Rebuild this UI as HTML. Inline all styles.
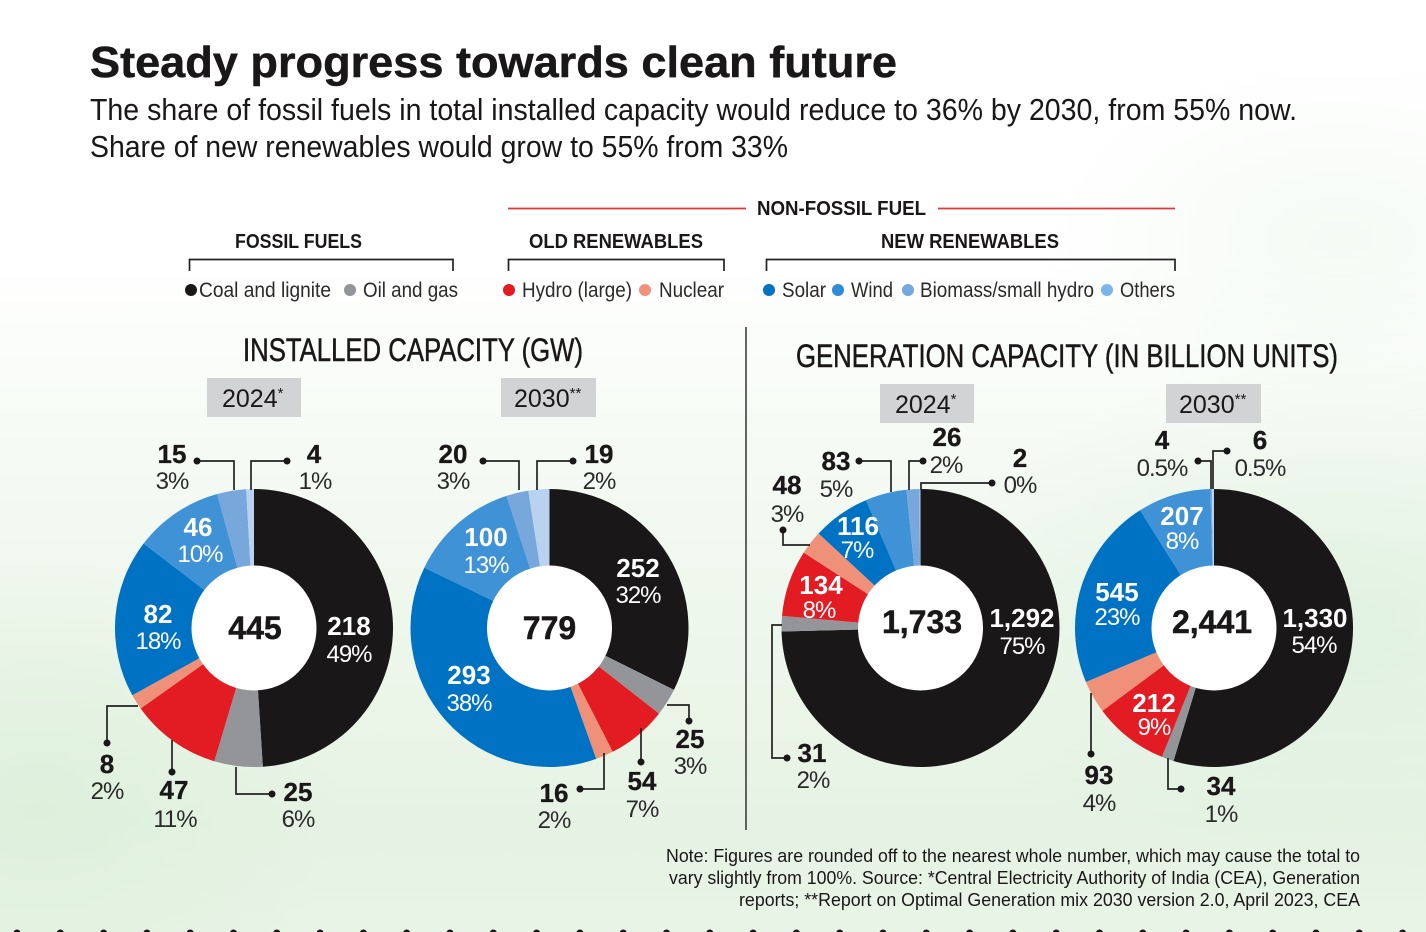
<!DOCTYPE html>
<html lang="en">
<head>
<meta charset="utf-8">
<title>Steady progress towards clean future</title>
<style>
html,body{margin:0;padding:0;background:#fff}
#page{position:relative;width:1426px;height:932px;overflow:hidden;
background:
radial-gradient(ellipse 300px 180px at 1340px 240px,rgba(226,241,226,.35),rgba(226,241,226,0)),
radial-gradient(ellipse 420px 260px at 1340px 620px,rgba(216,238,218,.6),rgba(216,238,218,0)),
radial-gradient(ellipse 300px 240px at 40px 800px,rgba(214,236,212,.5),rgba(214,236,212,0)),
linear-gradient(180deg,#ffffff 0,#ffffff 260px,#f7fbf6 420px,#eef7ec 620px,#e6f3e4 820px,#e8f4e6 932px)}
svg{position:absolute;left:0;top:0}
text{font-family:"Liberation Sans",sans-serif;fill:#1a1718}
.b{font-weight:700;font-size:26px;text-anchor:middle;stroke:#1a1718;stroke-width:.3px}
.p{font-size:24px;letter-spacing:-1px;text-anchor:middle;fill:#2a2a2a}
.w{fill:#fff;stroke:none}
.c{font-weight:700;font-size:32px;text-anchor:middle;stroke:#1a1718;stroke-width:.5px}
.h{font-weight:700;font-size:20px}
.l{font-size:21px;fill:#2a2a2a}
.t{font-size:32px;stroke:#1a1718;stroke-width:.5px}
.y{font-size:25px}
.y tspan{font-size:15px}
.n{font-size:18.5px}
.s{font-size:31px}
.ld{fill:none;stroke:#222;stroke-width:1.7}
.dt{fill:#1a1718}
</style>
</head>
<body>
<div id="page">
<svg id="chart" width="1426" height="932" viewBox="0 0 1426 932">
<text x="90" y="77" font-size="44" font-weight="700" stroke="#1a1718" stroke-width=".5" textLength="807" lengthAdjust="spacingAndGlyphs">Steady progress towards clean future</text>
<text class="s" x="90" y="120" textLength="1207" lengthAdjust="spacingAndGlyphs">The share of fossil fuels in total installed capacity would reduce to 36% by 2030, from 55% now.</text>
<text class="s" x="90" y="157" textLength="698" lengthAdjust="spacingAndGlyphs">Share of new renewables would grow to 55% from 33%</text>

<path d="M508 208.500H746M938 208.500H1175" stroke="#e3343a" stroke-width="1.800" fill="none"/>
<text class="h" x="757" y="215" textLength="169" lengthAdjust="spacingAndGlyphs">NON-FOSSIL FUEL</text>
<text class="h" x="235" y="248" textLength="127" lengthAdjust="spacingAndGlyphs">FOSSIL FUELS</text>
<text class="h" x="529" y="248" textLength="174" lengthAdjust="spacingAndGlyphs">OLD RENEWABLES</text>
<text class="h" x="881" y="248" textLength="178" lengthAdjust="spacingAndGlyphs">NEW RENEWABLES</text>
<path class="ld" d="M189.500 271V259.500H453V271"/>
<path class="ld" d="M508.500 271V259.500H724V271"/>
<path class="ld" d="M766.500 271V259.500H1175V271"/>

<circle cx="191" cy="290" r="6" fill="#1a1718"/>
<text class="l" x="199" y="297" textLength="132" lengthAdjust="spacingAndGlyphs">Coal and lignite</text>
<circle cx="350" cy="290" r="6" fill="#939598"/>
<text class="l" x="363" y="297" textLength="95" lengthAdjust="spacingAndGlyphs">Oil and gas</text>
<circle cx="509" cy="290" r="6" fill="#e31b23"/>
<text class="l" x="522" y="297" textLength="110" lengthAdjust="spacingAndGlyphs">Hydro (large)</text>
<circle cx="645" cy="290" r="6" fill="#f0917a"/>
<text class="l" x="659" y="297" textLength="65" lengthAdjust="spacingAndGlyphs">Nuclear</text>
<circle cx="769" cy="290" r="6" fill="#0072c6"/>
<text class="l" x="782" y="297" textLength="44" lengthAdjust="spacingAndGlyphs">Solar</text>
<circle cx="838" cy="290" r="6" fill="#2e8bd6"/>
<text class="l" x="851" y="297" textLength="42" lengthAdjust="spacingAndGlyphs">Wind</text>
<circle cx="908" cy="290" r="6" fill="#74a9e0"/>
<text class="l" x="920" y="297" textLength="174" lengthAdjust="spacingAndGlyphs">Biomass/small hydro</text>
<circle cx="1107" cy="290" r="6" fill="#7ab5ea"/>
<text class="l" x="1120" y="297" textLength="55" lengthAdjust="spacingAndGlyphs">Others</text>

<line x1="746" y1="327" x2="746" y2="830" stroke="#333" stroke-width="1.500"/>
<text class="t" x="243" y="361" textLength="340" lengthAdjust="spacingAndGlyphs">INSTALLED CAPACITY (GW)</text>
<text class="t" x="796" y="367" textLength="542" lengthAdjust="spacingAndGlyphs">GENERATION CAPACITY (IN BILLION UNITS)</text>

<rect x="207" y="378" width="94" height="39" fill="#d2d3d5"/>
<text class="y" x="222" y="407">2024<tspan dy="-9">*</tspan></text>
<rect x="501" y="378" width="95" height="39" fill="#d2d3d5"/>
<text class="y" x="514" y="407">2030<tspan dy="-9">**</tspan></text>
<rect x="880" y="384" width="94" height="39" fill="#d2d3d5"/>
<text class="y" x="895" y="413">2024<tspan dy="-9">*</tspan></text>
<rect x="1166" y="384" width="95" height="39" fill="#d2d3d5"/>
<text class="y" x="1179" y="413">2030<tspan dy="-9">**</tspan></text>

<g id="donuts"></g>

<g>
<text class="c" x="255" y="639">445</text>
<text class="b w" x="349" y="635">218</text><text class="p w" x="349" y="662">49%</text>
<text class="b w" x="198" y="536">46</text><text class="p w" x="200" y="562">10%</text>
<text class="b w" x="158" y="623">82</text><text class="p w" x="158" y="649">18%</text>
<text class="b" x="172" y="463">15</text><text class="p" x="172" y="489">3%</text>
<text class="b" x="314" y="463">4</text><text class="p" x="315" y="489">1%</text>
<text class="b" x="107" y="773">8</text><text class="p" x="107" y="799">2%</text>
<text class="b" x="174" y="799">47</text><text class="p" x="175" y="827">11%</text>
<text class="b" x="298" y="801">25</text><text class="p" x="298" y="827">6%</text>
<path class="ld" d="M197 461H234V490M287 461H251V490M107 743V706H138M172 740V772M236 767V794H272"/>
<path class="dt" d="M197 457.500a3.500 3.500 0 1 0 .01 0M287 457.500a3.500 3.500 0 1 0 .01 0M107 739.500a3.500 3.500 0 1 0 .01 0M172 768.500a3.500 3.500 0 1 0 .01 0M272 790.500a3.500 3.500 0 1 0 .01 0"/>
</g>

<g>
<text class="c" x="549.500" y="639">779</text>
<text class="b w" x="638" y="577">252</text><text class="p w" x="638" y="603">32%</text>
<text class="b w" x="486" y="546">100</text><text class="p w" x="486" y="573">13%</text>
<text class="b w" x="469" y="684">293</text><text class="p w" x="469" y="711">38%</text>
<text class="b" x="453" y="463">20</text><text class="p" x="453" y="489">3%</text>
<text class="b" x="599" y="463">19</text><text class="p" x="599" y="489">2%</text>
<text class="b" x="690" y="748">25</text><text class="p" x="690" y="774">3%</text>
<text class="b" x="642" y="790">54</text><text class="p" x="642" y="817">7%</text>
<text class="b" x="554" y="802">16</text><text class="p" x="554" y="828">2%</text>
<path class="ld" d="M483 461H519V490M573 461H537V490M667 705H689V721M641 728V762M604 753V789H580"/>
<path class="dt" d="M483 457.500a3.500 3.500 0 1 0 .01 0M573 457.500a3.500 3.500 0 1 0 .01 0M689 717.500a3.500 3.500 0 1 0 .01 0M641 758.500a3.500 3.500 0 1 0 .01 0M580 785.500a3.500 3.500 0 1 0 .01 0"/>
</g>

<g>
<text class="c" x="922" y="633">1,733</text>
<text class="b w" x="1022" y="627">1,292</text><text class="p w" x="1022" y="654">75%</text>
<text class="b w" x="858" y="535">116</text><text class="p w" x="857" y="558">7%</text>
<text class="b w" x="821" y="594">134</text><text class="p w" x="819" y="618">8%</text>
<text class="b" x="947" y="446">26</text><text class="p" x="946" y="473">2%</text>
<text class="b" x="1020" y="467">2</text><text class="p" x="1020" y="493">0%</text>
<text class="b" x="836" y="470">83</text><text class="p" x="836" y="497">5%</text>
<text class="b" x="787" y="494">48</text><text class="p" x="787" y="522">3%</text>
<text class="b" x="812" y="762">31</text><text class="p" x="813" y="788">2%</text>
<path class="ld" d="M923 461H909V490M992 483H921V490M859 461H891V492M783 530V545H810M782 625H772V758H787"/>
<path class="dt" d="M923 457.500a3.500 3.500 0 1 0 .01 0M992 479.500a3.500 3.500 0 1 0 .01 0M859 457.500a3.500 3.500 0 1 0 .01 0M783 526.500a3.500 3.500 0 1 0 .01 0M787 754.500a3.500 3.500 0 1 0 .01 0"/>
</g>

<g>
<text class="c" x="1212" y="633">2,441</text>
<text class="b w" x="1315" y="627">1,330</text><text class="p w" x="1314" y="653">54%</text>
<text class="b w" x="1182" y="525">207</text><text class="p w" x="1182" y="549">8%</text>
<text class="b w" x="1117" y="601">545</text><text class="p w" x="1117" y="625">23%</text>
<text class="b w" x="1154" y="712">212</text><text class="p w" x="1154" y="735">9%</text>
<text class="b" x="1162" y="449">4</text><text class="p" x="1162" y="476">0.5%</text>
<text class="b" x="1260" y="449">6</text><text class="p" x="1260" y="476">0.5%</text>
<text class="b" x="1099" y="784">93</text><text class="p" x="1099" y="811">4%</text>
<text class="b" x="1221" y="795">34</text><text class="p" x="1221" y="822">1%</text>
<path class="ld" d="M1198 461H1211V489M1227 451H1213V489M1091 693V754M1168 758V789H1181"/>
<path class="dt" d="M1198 457.500a3.500 3.500 0 1 0 .01 0M1227 447.500a3.500 3.500 0 1 0 .01 0M1091 750.500a3.500 3.500 0 1 0 .01 0M1181 785.500a3.500 3.500 0 1 0 .01 0"/>
</g>

<text class="n" x="666" y="862" textLength="694" lengthAdjust="spacingAndGlyphs">Note: Figures are rounded off to the nearest whole number, which may cause the total to</text>
<text class="n" x="669" y="884" textLength="691" lengthAdjust="spacingAndGlyphs">vary slightly from 100%. Source: *Central Electricity Authority of India (CEA), Generation</text>
<text class="n" x="739" y="906" textLength="621" lengthAdjust="spacingAndGlyphs">reports; **Report on Optimal Generation mix 2030 version 2.0, April 2023, CEA</text>
<g id="footer-dots"></g>
</svg>
</div>
<script>
const categories = ['coal', 'oil-gas', 'hydro', 'nuclear', 'solar', 'wind', 'biomass', 'others'];
const installed2024 = [218, 25, 47, 8, 82, 46, 15, 4];
const installed2030 = [252, 25, 54, 16, 293, 100, 20, 19];
const generation2024 = [1292, 31, 134, 48, 116, 83, 26, 2];
const generation2030 = [1330, 34, 212, 93, 545, 207, 4, 6];

const colors = {
  'coal': '#1a1718', 'oil-gas': '#939598', 'hydro': '#e31b23', 'nuclear': '#ee9178',
  'solar': '#0072c4', 'wind': '#3f92d6', 'biomass': '#78a7db', 'others': '#b8d2f0'
};
const NS = 'http://www.w3.org/2000/svg';
const OUTER = 139;
const INNER = 62.5;

function angleScale(cumulative, total) {
  return cumulative / total * Math.PI * 2;
}
function polar(cx, cy, r, angle) {
  return [cx + r * Math.sin(angle), cy - r * Math.cos(angle)];
}
function wedgePath(cx, cy, a0, a1) {
  const large = a1 - a0 > Math.PI ? 1 : 0;
  const p0 = polar(cx, cy, OUTER, a0);
  const p1 = polar(cx, cy, OUTER, a1);
  return 'M' + cx + ' ' + cy + 'L' + p0[0] + ' ' + p0[1] + 'A' + OUTER + ' ' + OUTER + ' 0 ' + large + ' 1 ' + p1[0] + ' ' + p1[1] + 'Z';
}
function drawDonut(parent, name, series, cx, cy) {
  const total = series.reduce(function (a, b) { return a + b; }, 0);
  let run = 0;
  series.forEach(function (v, i) {
    const path = document.createElementNS(NS, 'path');
    path.setAttribute('d', wedgePath(cx, cy, angleScale(run, total), angleScale(run + v, total)));
    path.setAttribute('fill', colors[categories[i]]);
    
    
    parent.appendChild(path);
    run += v;
  });
  const hole = document.createElementNS(NS, 'circle');
  hole.setAttribute('cx', cx);
  hole.setAttribute('cy', cy);
  hole.setAttribute('r', INNER);
  hole.setAttribute('fill', '#fff');
  
  
  parent.appendChild(hole);
}
const root = document.getElementById('donuts');
drawDonut(root, 'installed-2024', installed2024, 254, 628);
drawDonut(root, 'installed-2030', installed2030, 549.5, 628);
drawDonut(root, 'generation-2024', generation2024, 920.5, 628);
drawDonut(root, 'generation-2030', generation2030, 1214, 628);

const footer = document.getElementById('footer-dots');
for (let x = 17; x < 1426; x += 43.3) {
  const dot = document.createElementNS(NS, 'circle');
  dot.setAttribute('cx', x);
  dot.setAttribute('cy', 933);
  dot.setAttribute('r', 3.5);
  dot.setAttribute('fill', '#1a1718');
  
  
  footer.appendChild(dot);
}
</script>
</body>
</html>
